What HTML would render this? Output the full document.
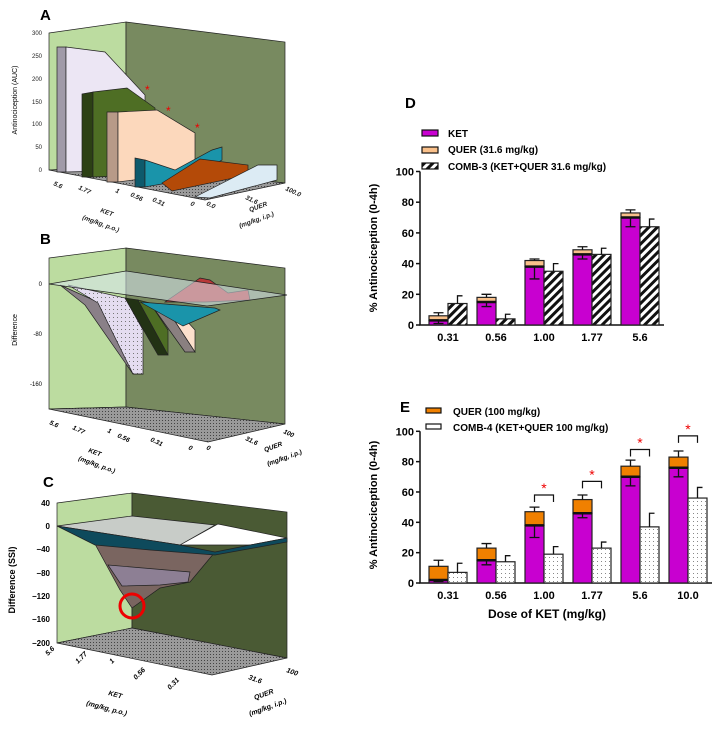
<!DOCTYPE html>
<html><head><meta charset="utf-8"><style>
body{margin:0;background:#fff;width:712px;height:730px;overflow:hidden;font-family:"Liberation Sans",sans-serif}
svg{position:absolute;left:0;top:0}
</style></head><body>
<svg id="fig" width="712" height="730" viewBox="0 0 712 730">
<defs>
<pattern id="stip" width="3" height="3" patternUnits="userSpaceOnUse"><rect width="3" height="3" fill="#9a9a9a"/><rect width="1" height="1" fill="#444"/></pattern>
<pattern id="dots" width="4" height="4" patternUnits="userSpaceOnUse"><rect width="4" height="4" fill="#fff"/><rect x="1" y="1" width="1" height="1" fill="#888"/></pattern>
<pattern id="lavdots" width="4" height="4" patternUnits="userSpaceOnUse"><rect width="4" height="4" fill="#e4dcf0"/><rect x="1" y="1" width="1" height="1" fill="#777"/></pattern>
<pattern id="hatch" width="6" height="6" patternUnits="userSpaceOnUse" patternTransform="rotate(45)"><rect width="6" height="6" fill="#fff"/><rect width="3" height="6" fill="#111"/></pattern>
</defs>

<!-- Panel A -->
<g stroke="#222" stroke-width="0.7">
<text x="40" y="20" font-size="15" font-weight="bold" stroke="none">A</text>
<polygon points="49,33 126,22 126,167 49,170" fill="#bcdca0"/>
<polygon points="126,22 285,42 285,183 126,167" fill="#788a60"/>
<polygon points="49,170 126,167 285,183 205,200" fill="url(#stip)"/>
<polygon points="57,47 66,47 66,172 57,172" fill="#a09aa8"/>
<polygon points="66,47 105,52 145,95 145,170 66,172" fill="#ece6f4"/>
<polygon points="82,94 93,92 93,177 82,177" fill="#2c4014"/>
<polygon points="93,92 127,88 155,108 155,175 93,177" fill="#4e6e24"/>
<polygon points="107,112 118,112 118,182 107,182" fill="#b89a88"/>
<polygon points="118,112 157,110 195,133 195,172 118,182" fill="#fcd8bc"/>
<polygon points="135,158 145,160 145,187 135,187" fill="#0e5a6c"/>
<polygon points="145,160 175,170 212,150 222,147 222,160 185,180 145,187" fill="#1a94aa"/>
<polygon points="162,183 200,159 248,165 248,175 172,191" fill="#b44a08"/>
<polygon points="195,197 258,165 277,165 277,180 210,198" fill="#dcebf4"/>
<g stroke="none" fill="#e00" font-size="12"><text x="145" y="94">*</text><text x="166" y="115">*</text><text x="195" y="132">*</text></g>
<g stroke="none" font-size="6" text-anchor="end" fill="#222">
<text x="42" y="35">300</text><text x="42" y="58">250</text><text x="42" y="81">200</text><text x="42" y="104">150</text><text x="42" y="126">100</text><text x="42" y="149">50</text><text x="42" y="172">0</text></g>
<text transform="translate(17,100) rotate(-90)" font-size="7" text-anchor="middle" stroke="none">Antinociception (AUC)</text>
<g stroke="none" font-size="6.5" font-weight="bold" font-style="italic" fill="#222">
<text transform="translate(53,185) rotate(25)">5.6</text><text transform="translate(78,189) rotate(25)">1.77</text><text transform="translate(115,192) rotate(25)">1</text><text transform="translate(130,196) rotate(25)">0.56</text><text transform="translate(152,201) rotate(25)">0.31</text><text transform="translate(190,205) rotate(25)">0</text><text transform="translate(206,205) rotate(25)">0.0</text><text transform="translate(245,199) rotate(25)">31.6</text><text transform="translate(285,190) rotate(25)">100.0</text>
<text transform="translate(100,212) rotate(20)">KET</text><text transform="translate(82,219) rotate(20)">(mg/kg, p.o.)</text>
<text transform="translate(250,212) rotate(-20)">QUER</text><text transform="translate(240,228) rotate(-20)">(mg/kg, i.p.)</text></g>
</g>

<!-- Panel B -->
<g stroke="#222" stroke-width="0.7">
<text x="40" y="244" font-size="15" font-weight="bold" stroke="none">B</text>
<polygon points="49,258 126,248 126,407 49,409" fill="#bcdca0"/>
<polygon points="126,248 285,268 285,424 126,407" fill="#788a60"/>
<polygon points="49,409 126,407 285,424 208,442" fill="url(#stip)"/>
<polygon points="60,285 100,303 143,374 133,374 85,305" fill="#8a8088"/>
<polygon points="68,285 125,298 143,330 143,374 133,374 98,303" fill="url(#lavdots)"/>
<polygon points="125,298 138,300 168,355 158,355" fill="#223214"/>
<polygon points="138,300 150,303 168,330 168,355" fill="#4e6e24"/>
<polygon points="150,303 165,306 195,352 185,352" fill="#8a8080"/>
<polygon points="165,306 175,308 195,330 195,352" fill="#fce0cc"/>
<polygon points="140,302 215,308 220,310 183,326 158,312" fill="#1a94aa"/>
<polygon points="165,302 200,278 210,280 228,293 248,290 250,300 205,302" fill="#b83838"/>
<polygon points="49,284 126,271 287,295 207,306" fill="#d8e8f0" fill-opacity="0.55"/>
<g stroke="none" font-size="6" text-anchor="end"><text x="42" y="286">0</text><text x="42" y="336">-80</text><text x="42" y="386">-160</text></g>
<text transform="translate(17,330) rotate(-90)" font-size="7" text-anchor="middle" stroke="none">Difference</text>
<g stroke="none" font-size="6.5" font-weight="bold" font-style="italic">
<text transform="translate(49,424) rotate(25)">5.6</text><text transform="translate(72,429) rotate(25)">1.77</text><text transform="translate(107,432) rotate(25)">1</text><text transform="translate(117,437) rotate(25)">0.56</text><text transform="translate(150,441) rotate(25)">0.31</text><text transform="translate(188,449) rotate(25)">0</text><text transform="translate(206,449) rotate(25)">0</text><text transform="translate(245,440) rotate(25)">31.6</text><text transform="translate(283,433) rotate(25)">100</text>
<text transform="translate(88,452) rotate(20)">KET</text><text transform="translate(78,460) rotate(20)">(mg/kg, p.o.)</text>
<text transform="translate(265,452) rotate(-20)">QUER</text><text transform="translate(268,466) rotate(-20)">(mg/kg, i.p.)</text></g>
</g>

<!-- Panel C -->
<g stroke="#222" stroke-width="0.7">
<text x="43" y="487" font-size="15" font-weight="bold" stroke="none">C</text>
<polygon points="57,503 132,493 132,628 57,643" fill="#bcdca0"/>
<polygon points="132,493 287,512 287,658 132,628" fill="#4a5a34"/>
<polygon points="57,643 132,628 287,658 212,675" fill="url(#stip)"/>
<polygon points="95,544 215,552 190,582 160,588 132,608 120,590" fill="#7a6560"/>
<polygon points="108,565 190,572 188,582 160,585 122,586" fill="#8d7f94"/>
<polygon points="57,526 132,516 215,525 180,545" fill="#c8ccc8"/>
<polygon points="180,545 218,524 287,538 250,545" fill="#fff"/>
<polygon points="57,526 180,545 215,552 250,545 287,538 287,542 215,555 150,550 95,545" fill="#0e4a5c"/>
<circle cx="132" cy="606" r="12" fill="none" stroke="#e00" stroke-width="3"/>
<g stroke="none" font-size="8" font-weight="bold" text-anchor="end"><text x="50" y="506">40</text><text x="50" y="529">0</text><text x="50" y="552">−40</text><text x="50" y="576">−80</text><text x="50" y="599">−120</text><text x="50" y="622">−160</text><text x="50" y="646">−200</text></g>
<text transform="translate(15,580) rotate(-90)" font-size="9" font-weight="bold" text-anchor="middle" stroke="none">Difference (SSI)</text>
<g stroke="none" font-size="7" font-weight="bold" font-style="italic">
<text transform="translate(48,656) rotate(-45)">5.6</text><text transform="translate(78,664) rotate(-45)">1.77</text><text transform="translate(112,664) rotate(-45)">1</text><text transform="translate(136,680) rotate(-45)">0.56</text><text transform="translate(170,690) rotate(-45)">0.31</text><text transform="translate(248,679) rotate(20)">31.6</text><text transform="translate(286,672) rotate(20)">100</text>
<text transform="translate(108,695) rotate(15)">KET</text><text transform="translate(86,705) rotate(15)">(mg/kg, p.o.)</text>
<text transform="translate(255,700) rotate(-20)">QUER</text><text transform="translate(250,716) rotate(-20)">(mg/kg, i.p.)</text></g>
</g>

<!-- Panel D static -->
<g>
<text x="405" y="108" font-size="15" font-weight="bold">D</text>
<rect x="422" y="130" width="16" height="6" fill="#c800d0" stroke="#111" stroke-width="1.2"/>
<text x="448" y="137" font-size="10" font-weight="bold">KET</text>
<rect x="422" y="147" width="16" height="6" fill="#f9c08a" stroke="#111" stroke-width="1.2"/>
<text x="448" y="153" font-size="10" font-weight="bold">QUER (31.6 mg/kg)</text>
<rect x="422" y="163" width="16" height="6" fill="url(#hatch)" stroke="#111" stroke-width="1.2"/>
<text x="448" y="170" font-size="10" font-weight="bold">COMB-3 (KET+QUER 31.6 mg/kg)</text>
<text transform="translate(377,248) rotate(-90)" font-size="11" font-weight="bold" text-anchor="middle">% Antinociception (0-4h)</text>
<g id="chartD"></g>
</g>

<!-- Panel E static -->
<g>
<text x="400" y="412" font-size="15" font-weight="bold">E</text>
<rect x="426" y="408" width="15" height="5" fill="#f08000" stroke="#111" stroke-width="1.2"/>
<text x="453" y="415" font-size="10" font-weight="bold">QUER (100 mg/kg)</text>
<rect x="426" y="424" width="15" height="5" fill="#fff" stroke="#111" stroke-width="1.2"/>
<text x="453" y="431" font-size="10" font-weight="bold">COMB-4 (KET+QUER 100 mg/kg)</text>
<text transform="translate(377,505) rotate(-90)" font-size="11" font-weight="bold" text-anchor="middle">% Antinociception (0-4h)</text>
<text x="547" y="618" font-size="12" font-weight="bold" text-anchor="middle">Dose of KET (mg/kg)</text>
<g id="chartE"></g>
</g>
</svg>
<script>
const NS='http://www.w3.org/2000/svg';
const dDoses=['0.31','0.56','1.00','1.77','5.6'];
const dKet=[3,15,38,46,70];
const dKetLow=[1,12,30,43,64];
const dTotal=[6,18,42,49,73];
const dTotalErr=[8,20,43,51,75];
const dComb=[14,4,35,46,64];
const dCombErr=[19,7,40,50,69];
const eDoses=['0.31','0.56','1.00','1.77','5.6','10.0'];
const eKet=[2,15,38,46,70,76];
const eKetLow=[1,12,30,43,64,70];
const eTotal=[11,23,47,55,77,83];
const eTotalErr=[15,26,50,58,81,87];
const eComb=[7,14,19,23,37,56];
const eCombErr=[13,18,24,27,46,63];
const eSig=[false,false,true,true,true,true];
const eBracket=[0,0,58,67,88,97];
const yTicks=[0,20,40,60,80,100];

function mk(tag,attrs,parent){const e=document.createElementNS(NS,tag);for(const k in attrs)e.setAttribute(k,attrs[k]);parent.appendChild(e);return e;}
function chart(g,cfg){
  const y=v=>cfg.y0-v*cfg.k;
  const x=i=>cfg.x0+i*48;
  const ax=mk('path',{d:`M${cfg.ax},${y(100)}V${y(0)}H${cfg.ax+cfg.n*48+4}`,stroke:'#111','stroke-width':1.5,fill:'none'},g);
  
  
  yTicks.forEach(t=>{
    mk('line',{x1:cfg.ax-4,x2:cfg.ax,y1:y(t),y2:y(t),stroke:'#111','stroke-width':1.5},g);
    const tx=mk('text',{x:cfg.ax-6,y:y(t)+4,'font-size':11,'font-weight':'bold','text-anchor':'end'},g);tx.textContent=t;
    
    
  });
  cfg.doses.forEach((d,i)=>{
    const c=x(i),w=19;
    const kb=mk('rect',{x:c-w,y:y(cfg.ket[i]),width:w,height:cfg.ket[i]*cfg.k,fill:'#c800d0',stroke:'#222','stroke-width':1.2},g);
    
    
    const qb=mk('rect',{x:c-w,y:y(cfg.tot[i]),width:w,height:(cfg.tot[i]-cfg.ket[i])*cfg.k,fill:cfg.qc,stroke:'#222','stroke-width':1.2},g);
    
    
    mk('line',{x1:c-w,x2:c,y1:y(cfg.ket[i]),y2:y(cfg.ket[i]),stroke:'#111','stroke-width':2.5},g);
    const e1=mk('path',{d:`M${c-w/2},${y(cfg.tot[i])}V${y(cfg.totErr[i])}M${c-w/2-5},${y(cfg.totErr[i])}h10M${c-w/2},${y(cfg.ket[i])}V${y(cfg.ketLow[i])}M${c-w/2-5},${y(cfg.ketLow[i])}h10`,stroke:'#111','stroke-width':1.3,fill:'none'},g);
    
    
    const cb=mk('rect',{x:c,y:y(cfg.comb[i]),width:w,height:cfg.comb[i]*cfg.k,fill:cfg.cf,stroke:'#222','stroke-width':1.2},g);
    
    
    const e2=mk('path',{d:`M${c+w/2},${y(cfg.comb[i])}V${y(cfg.combErr[i])}h5`,stroke:'#111','stroke-width':1.3,fill:'none'},g);
    
    
    const tl=mk('text',{x:c,y:cfg.y0+16,'font-size':11,'font-weight':'bold','text-anchor':'middle'},g);tl.textContent=d;
    
    
    if(cfg.sig&&cfg.sig[i]){
      const by=y(cfg.br[i]);
      const br=mk('path',{d:`M${c-w/2},${by+7}V${by}H${c+w/2}V${by+7}`,stroke:'#111','stroke-width':1.2,fill:'none'},g);
      
      
      const st=mk('text',{x:c,y:by-2,'font-size':14,fill:'#e00','text-anchor':'middle'},g);st.textContent='*';
      
      
    }
  });
}
chart(document.getElementById('chartD'),{y0:325,k:1.535,x0:448,ax:420,n:5,doses:dDoses,ket:dKet,ketLow:dKetLow,tot:dTotal,totErr:dTotalErr,comb:dComb,combErr:dCombErr,qc:'#f9c08a',cf:'url(#hatch)'});
chart(document.getElementById('chartE'),{y0:583,k:1.517,x0:448,ax:420,n:6,doses:eDoses,ket:eKet,ketLow:eKetLow,tot:eTotal,totErr:eTotalErr,comb:eComb,combErr:eCombErr,qc:'#f08000',cf:'url(#dots)',sig:eSig,br:eBracket});
</script>
</body></html>
